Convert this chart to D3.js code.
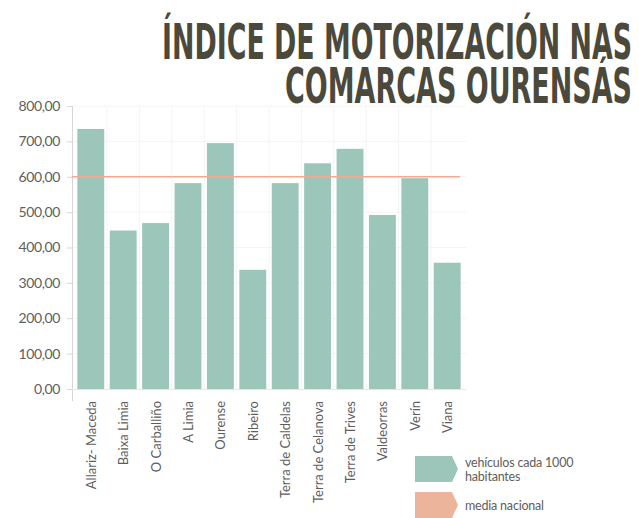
<!DOCTYPE html>
<html>
<head>
<meta charset="utf-8">
<script src="https://cdn.jsdelivr.net/npm/d3@7"></script>
<style>
  html, body { margin: 0; padding: 0; background: #fff; }
  svg { display: block; }
</style>
</head>
<body>
<svg id="chart" width="639" height="518"></svg>
<script>
const titleLines = ["ÍNDICE DE MOTORIZACIÓN NAS", "COMARCAS OURENSÁS"];
const categories = ["Allariz- Maceda", "Baixa Limia", "O Carballiño", "A Limia", "Ourense", "Ribeiro",
  "Terra de Caldelas", "Terra de Celanova", "Terra de Trives", "Valdeorras", "Verín", "Viana"];
const vehiculos = [735, 448, 469, 582, 695, 337, 582, 638, 679, 492, 596, 357];
const mediaNacional = 600;
const yTicks = [0, 100, 200, 300, 400, 500, 600, 700, 800];
const legendLabels = [["vehículos cada 1000", "habitantes"], ["media nacional"]];

const barColor = "#9cc6ba";
const lineColor = "#f2aa92";
const legendSalmon = "#edb49c";
const axisColor = "#d6d6d6";
const textColor = "#5e5e5e";
const bodyFont = "Lato, 'Open Sans', sans-serif";

const svg = d3.select("#chart");
const fmt = d3.formatLocale({decimal: ",", thousands: ".", grouping: [3], currency: ["", "€"]}).format(".2f");

const x = d3.scaleBand().domain(categories).range([72, 466]).paddingInner(0.17).paddingOuter(0.165);
const y = d3.scaleLinear().domain([0, 800]).range([389, 106]);

// faint gridlines
const grid = svg.append("g").attr("stroke", "#f4f4f4").attr("stroke-width", 1);
grid.selectAll("line.h").data(yTicks.slice(1)).join("line")
  .attr("x1", 72).attr("x2", 466).attr("y1", d => y(d)).attr("y2", d => y(d));
grid.selectAll("line.v").data(categories.slice(1)).join("line")
  .attr("x1", d => x(d) - x.step() * x.paddingInner() / 2)
  .attr("x2", d => x(d) - x.step() * x.paddingInner() / 2)
  .attr("y1", y(800)).attr("y2", y(0));

// bars
svg.append("g").selectAll("rect").data(categories).join("rect")
  .attr("x", d => x(d))
  .attr("width", x.bandwidth())
  .attr("y", (d, i) => y(vehiculos[i]))
  .attr("height", (d, i) => y(0) - y(vehiculos[i]))
  .attr("fill", barColor);

// y axis
const yAxis = svg.append("g").attr("transform", "translate(72,0)")
  .call(d3.axisLeft(y).tickValues(yTicks).tickFormat(fmt).tickSize(5).tickPadding(7));
yAxis.select(".domain").remove();
yAxis.selectAll(".tick line").attr("stroke", axisColor);
yAxis.selectAll(".tick text").attr("font-family", bodyFont).attr("font-size", 14)
  .attr("fill", textColor).attr("letter-spacing", -0.4);
svg.append("line").attr("x1", 72.5).attr("x2", 72.5).attr("y1", y(800)).attr("y2", 401)
  .attr("stroke", axisColor).attr("stroke-width", 1);
svg.append("line").attr("x1", 72).attr("x2", 466).attr("y1", y(0) + 0.5).attr("y2", y(0) + 0.5)
  .attr("stroke", "#e6e6e6").attr("stroke-width", 1);

// x labels
svg.append("g").selectAll("text").data(categories).join("text")
  .attr("transform", d => `translate(${x(d) + x.bandwidth() / 2 + 5},401) rotate(-90)`)
  .attr("text-anchor", "end")
  .attr("font-family", bodyFont).attr("font-size", 13).attr("fill", textColor)
  .text(d => d);

// media nacional line
svg.append("line")
  .attr("x1", 72).attr("x2", x.range()[1] - 6)
  .attr("y1", y(mediaNacional)).attr("y2", y(mediaNacional))
  .attr("stroke", lineColor).attr("stroke-width", 1.6);

// title: condensed look by horizontal scaling to the measured widths
const titleWidths = [470, 347];
const titleBaselines = [58.5, 103];
titleLines.forEach((line, i) => {
  const t = svg.append("text")
    .attr("font-family", "'Liberation Sans Narrow', 'DejaVu Sans Condensed', Roboto, sans-serif")
    .attr("font-weight", "bold").attr("font-size", 49).attr("fill", "#4b493b")
    .attr("text-anchor", "end").attr("x", 0).attr("y", 0).text(line);
  const w = t.node().getComputedTextLength();
  t.attr("transform", `translate(632,${titleBaselines[i]}) scale(${titleWidths[i] / w},1)`);
});

// legend
const legendColors = [barColor, legendSalmon];
const legendTops = [456, 492];
const lg = svg.append("g");
legendColors.forEach((c, i) => {
  const t = legendTops[i], h = 26, x0 = 415, x1 = 452, tip = 458;
  lg.append("path")
    .attr("d", `M${x0},${t}H${x1}L${tip},${t + h / 2}L${x1},${t + h}H${x0}Z`)
    .attr("fill", c);
  const tx = lg.append("text").attr("font-family", bodyFont).attr("font-size", 12.5)
    .attr("fill", textColor).attr("letter-spacing", -0.2);
  const lines = legendLabels[i];
  const baseY = lines.length === 2 ? t + 10.5 : t + 18;
  lines.forEach((l, j) => tx.append("tspan").attr("x", 465).attr("y", baseY + j * 14).text(l));
});
</script>
</body>
</html>
